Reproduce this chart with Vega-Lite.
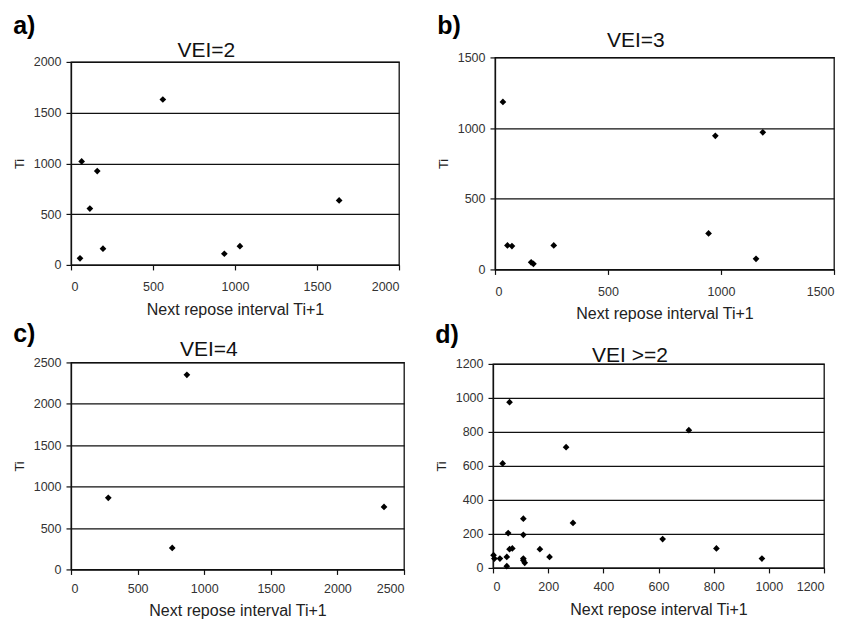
{
  "$schema": "https://vega.github.io/schema/vega-lite/v6.json",
  "background": "white",
  "padding": {"left": 12, "top": 13, "right": 0, "bottom": 0},
  "datasets": {
    "vei2": [
      {"next": 560, "ti": 1630}, {"next": 65, "ti": 1020}, {"next": 160, "ti": 925},
      {"next": 115, "ti": 555}, {"next": 195, "ti": 160}, {"next": 55, "ti": 65},
      {"next": 935, "ti": 110}, {"next": 1030, "ti": 185}, {"next": 1635, "ti": 635}
    ],
    "vei3": [
      {"next": 35, "ti": 1185}, {"next": 975, "ti": 945}, {"next": 1185, "ti": 970},
      {"next": 945, "ti": 255}, {"next": 1155, "ti": 75}, {"next": 55, "ti": 170},
      {"next": 75, "ti": 165}, {"next": 260, "ti": 170}, {"next": 160, "ti": 50},
      {"next": 170, "ti": 40}
    ],
    "vei4": [
      {"next": 870, "ti": 2350}, {"next": 280, "ti": 865}, {"next": 760, "ti": 260},
      {"next": 2350, "ti": 755}
    ],
    "vei_all": [
      {"next": 60, "ti": 975}, {"next": 710, "ti": 810}, {"next": 265, "ti": 710},
      {"next": 35, "ti": 615}, {"next": 110, "ti": 290}, {"next": 290, "ti": 265},
      {"next": 55, "ti": 205}, {"next": 110, "ti": 195}, {"next": 615, "ti": 170},
      {"next": 810, "ti": 115}, {"next": 975, "ti": 55}, {"next": 60, "ti": 110},
      {"next": 70, "ti": 115}, {"next": 170, "ti": 110}, {"next": 205, "ti": 65},
      {"next": 2, "ti": 75}, {"next": 5, "ti": 55}, {"next": 25, "ti": 55},
      {"next": 50, "ti": 65}, {"next": 50, "ti": 10}, {"next": 110, "ti": 55},
      {"next": 110, "ti": 45}, {"next": 115, "ti": 30}
    ]
  },
  "config": {
    "font": "Liberation Sans",
    "view": {"stroke": "#111", "strokeWidth": 1.3},
    "title": {"color": "#111", "fontWeight": "normal", "font": "Liberation Sans"},
    "axis": {
      "domainColor": "#111", "domainWidth": 1.3,
      "tickColor": "#111", "tickWidth": 1.2, "tickSize": 5,
      "gridColor": "#111", "gridWidth": 1.3, "gridOpacity": 1,
      "labelFont": "Liberation Sans", "labelFontSize": 12.5, "labelColor": "#333",
      "titleFont": "Liberation Sans", "titleFontWeight": "normal", "titleColor": "#222",
      "format": "d"
    },
    "axisX": {"grid": false, "labelPadding": 11, "titleFontSize": 16, "titlePadding": 8},
    "axisY": {"grid": true, "labelPadding": 5, "titleFontSize": 13, "titlePadding": 7},
    "point": {"shape": "diamond", "filled": true, "color": "black", "size": 45, "opacity": 1}
  },
  "spacing": -2,
  "vconcat": [
    {
      "spacing": 35,
      "center": true,
      "hconcat": [
        {
          "title": {"text": "VEI=2", "anchor": "middle", "fontSize": 21, "offset": -48},
          "vconcat": [
            {
              "width": 328, "height": 203,
              "title": {"text": "a)", "anchor": "start", "fontSize": 25, "fontWeight": "bold", "offset": 17, "color": "black"},
              "data": {"name": "vei2"},
              "mark": "point",
              "encoding": {
                "x": {"field": "next", "type": "quantitative", "scale": {"domain": [0, 2000], "nice": false}, "axis": {"values": [0, 500, 1000, 1500, 2000], "title": "Next repose interval Ti+1"}},
                "y": {"field": "ti", "type": "quantitative", "scale": {"domain": [0, 2000], "nice": false}, "axis": {"values": [0, 500, 1000, 1500, 2000], "title": "Ti"}}
              }
            }
          ]
        },
        {
          "title": {"text": "VEI=3", "anchor": "middle", "fontSize": 21, "offset": -37},
          "vconcat": [
            {
              "width": 339, "height": 212,
              "title": {"text": "b)", "anchor": "start", "fontSize": 25, "fontWeight": "bold", "offset": 12, "color": "black"},
              "data": {"name": "vei3"},
              "mark": "point",
              "encoding": {
                "x": {"field": "next", "type": "quantitative", "scale": {"domain": [0, 1500], "nice": false}, "axis": {"values": [0, 500, 1000, 1500], "title": "Next repose interval Ti+1"}},
                "y": {"field": "ti", "type": "quantitative", "scale": {"domain": [0, 1500], "nice": false}, "axis": {"values": [0, 500, 1000, 1500], "title": "Ti"}}
              }
            }
          ]
        }
      ]
    },
    {
      "spacing": 28,
      "center": true,
      "hconcat": [
        {
          "title": {"text": "VEI=4", "anchor": "middle", "fontSize": 21, "offset": -38},
          "vconcat": [
            {
              "width": 333, "height": 207,
              "title": {"text": "c)", "anchor": "start", "fontSize": 25, "fontWeight": "bold", "offset": 9, "color": "black"},
              "data": {"name": "vei4"},
              "mark": "point",
              "encoding": {
                "x": {"field": "next", "type": "quantitative", "scale": {"domain": [0, 2500], "nice": false}, "axis": {"values": [0, 500, 1000, 1500, 2000, 2500], "title": "Next repose interval Ti+1", "labelPadding": 8}},
                "y": {"field": "ti", "type": "quantitative", "scale": {"domain": [0, 2500], "nice": false}, "axis": {"values": [0, 500, 1000, 1500, 2000, 2500], "title": "Ti"}}
              }
            }
          ]
        },
        {
          "title": {"text": "VEI >=2", "anchor": "middle", "fontSize": 21, "offset": -44},
          "vconcat": [
            {
              "width": 331, "height": 204,
              "title": {"text": "d)", "anchor": "start", "fontSize": 25, "fontWeight": "bold", "offset": 10, "color": "black"},
              "data": {"name": "vei_all"},
              "mark": "point",
              "encoding": {
                "x": {"field": "next", "type": "quantitative", "scale": {"domain": [0, 1200], "nice": false}, "axis": {"values": [0, 200, 400, 600, 800, 1000, 1200], "title": "Next repose interval Ti+1", "labelPadding": 8}},
                "y": {"field": "ti", "type": "quantitative", "scale": {"domain": [0, 1200], "nice": false}, "axis": {"values": [0, 200, 400, 600, 800, 1000, 1200], "title": "Ti"}}
              }
            }
          ]
        }
      ]
    }
  ]
}
